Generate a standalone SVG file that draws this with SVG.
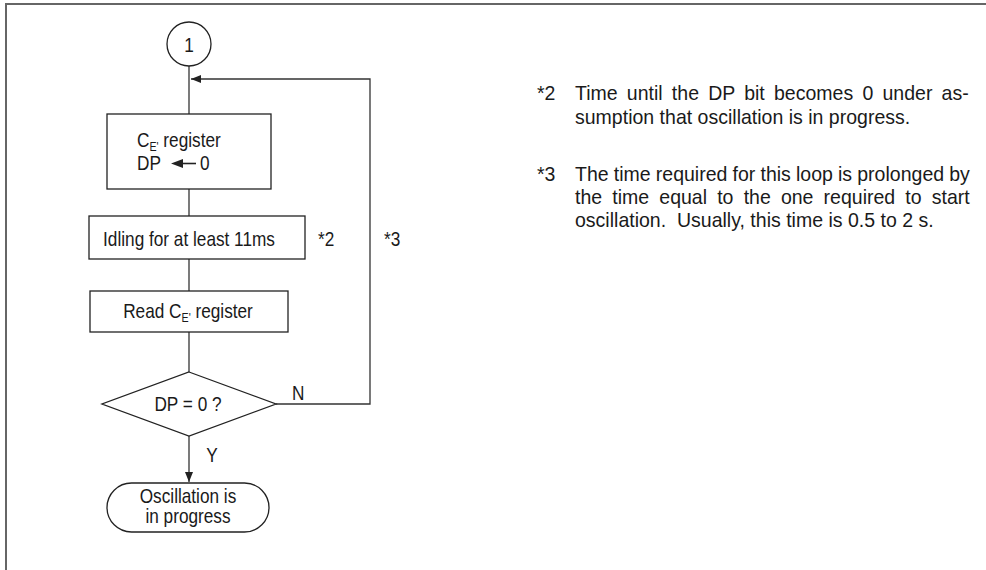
<svg xmlns="http://www.w3.org/2000/svg" width="986" height="570" viewBox="0 0 986 570">
<style>
text{font-family:"Liberation Sans",Arial,sans-serif;font-size:21px;fill:#1a1a1a}
.box{fill:#fff;stroke:#222;stroke-width:1.3}
.ln{fill:none;stroke:#333;stroke-width:1.3}
.sub{font-size:13px}
.c{text-anchor:middle}
</style>
<defs>
<marker id="ah" viewBox="0 0 10 8" refX="10" refY="4" markerWidth="10" markerHeight="8" markerUnits="userSpaceOnUse" orient="auto">
<path d="M0,0 L10,4 L0,8 Z" fill="#222"/>
</marker>
</defs>
<path d="M6,570 V4 H986" fill="none" stroke="#666" stroke-width="2"/>
<g id="connectors">
<path class="ln" d="M189,66 V114"/>
<path class="ln" d="M189,189 V216"/>
<path class="ln" d="M189,259 V291"/>
<path class="ln" d="M189,332 V372"/>
<path class="ln" d="M189,436 V482" marker-end="url(#ah)"/>
<path class="ln" d="M276,404 H370 V79 H191" marker-end="url(#ah)"/>
<text transform="translate(292,400) scale(0.82,1)">N</text>
<text class="c" transform="translate(212,462) scale(0.82,1)">Y</text>
</g>
<g id="start">
<circle class="box" cx="189" cy="44" r="22"/>
<text class="c" transform="translate(189,52) scale(0.82,1)">1</text>
</g>
<g id="set-dp">
<rect class="box" x="107" y="114" width="164" height="75"/>
<text transform="translate(137,147) scale(0.82,1)">C<tspan class="sub" dy="4">E'</tspan><tspan dy="-4"> register</tspan></text>
<text transform="translate(137,170) scale(0.82,1)">DP</text>
<path d="M196,163.5 H181" stroke="#222" stroke-width="1.6"/>
<path d="M171,163.5 L183,159 L183,168 Z" fill="#222"/>
<text transform="translate(200,170) scale(0.82,1)">0</text>
</g>
<g id="idle">
<rect class="box" x="89" y="216" width="216" height="43"/>
<text class="c" transform="translate(189,246) scale(0.82,1)">Idling for at least 11ms</text>
<text transform="translate(318,246) scale(0.82,1)">*2</text>
<text transform="translate(384,246) scale(0.82,1)">*3</text>
</g>
<g id="read">
<rect class="box" x="90" y="291" width="198" height="41"/>
<text class="c" transform="translate(188,318) scale(0.82,1)">Read C<tspan class="sub" dy="4">E'</tspan><tspan dy="-4"> register</tspan></text>
</g>
<g id="decision">
<path class="box" d="M189,372 L276,404 L189,436 L102,404 Z"/>
<text class="c" transform="translate(188,411) scale(0.82,1)">DP = 0 ?</text>
</g>
<g id="end">
<rect class="box" x="107" y="483" width="162" height="49" rx="24.5"/>
<text class="c" transform="translate(188,503) scale(0.82,1)">Oscillation is</text>
<text class="c" transform="translate(188,523) scale(0.82,1)">in progress</text>
</g>
<g id="notes">
<text transform="translate(537,100) scale(0.93,1)">*2</text>
<text transform="translate(575,100) scale(0.93,1)" word-spacing="4.07">Time until the DP bit becomes 0 under as-</text>
<text transform="translate(575,124) scale(0.93,1)">sumption that oscillation is in progress.</text>
<text transform="translate(537,181) scale(0.93,1)">*3</text>
<text transform="translate(575,181) scale(0.93,1)" word-spacing="-0.3">The time required for this loop is prolonged by</text>
<text transform="translate(575,204) scale(0.93,1)" word-spacing="5.08">the time equal to the one required to start</text>
<text transform="translate(575,227) scale(0.93,1)">oscillation.&#160; Usually, this time is 0.5 to 2 s.</text>
</g>
</svg>
